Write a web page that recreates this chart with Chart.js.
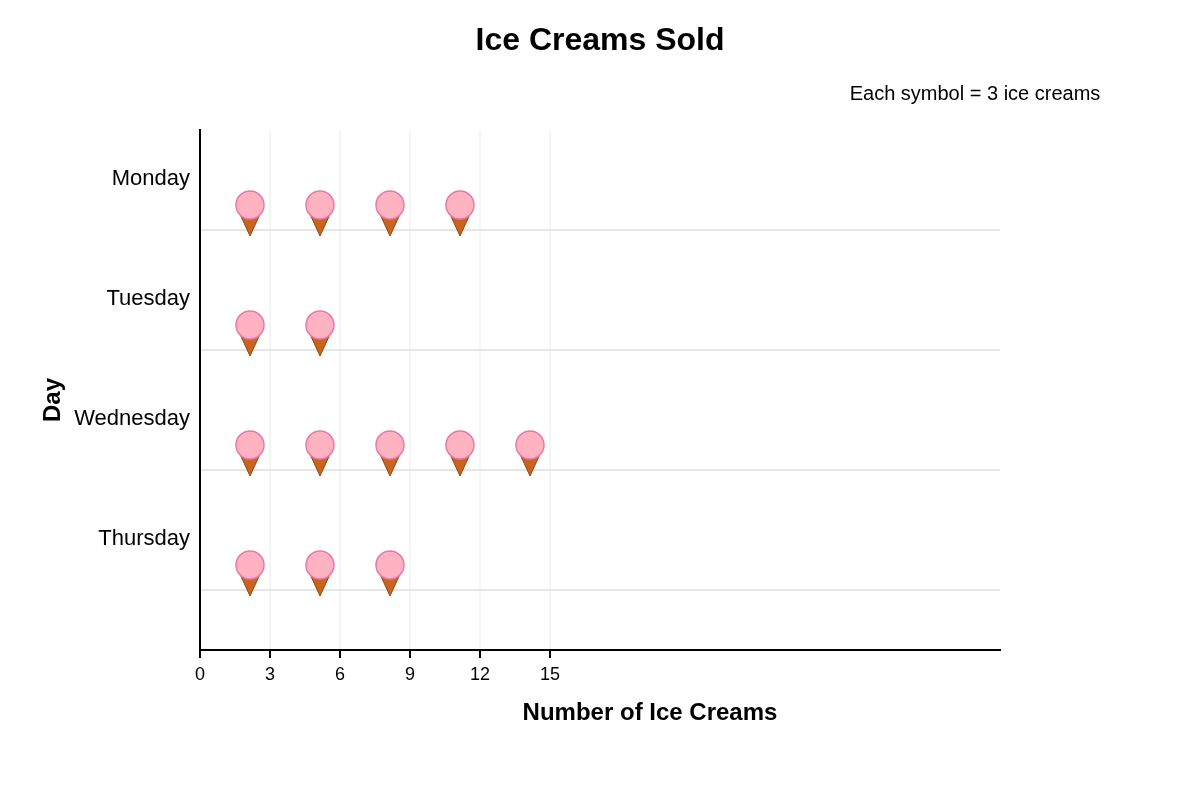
<!DOCTYPE html>
<html>
<head>
<meta charset="utf-8">
<style>
  html, body { margin: 0; padding: 0; background: #fff; }
  canvas { display: block; }
</style>
<script src="https://cdn.jsdelivr.net/npm/chart.js@4/dist/chart.umd.min.js"></script>
</head>
<body>
<canvas id="iceChart" width="1200" height="800"></canvas>
<script>
const days = ['Monday', 'Tuesday', 'Wednesday', 'Thursday'];
const iceCreams = [12, 6, 15, 9];
const xTicks = [0, 3, 6, 9, 12, 15];
const perSymbol = 3;

const fontName = '"Liberation Sans", Arial, sans-serif';

// one ice cream, with the row line running through the middle of the canvas
const makeIcon = () => {
  const icon = document.createElement('canvas');
  icon.width = 40;
  icon.height = 80;
  const c = icon.getContext('2d');
  c.beginPath();
  c.moveTo(9, 22);
  c.lineTo(20, 46);
  c.lineTo(31, 22);
  c.closePath();
  c.fillStyle = '#c9641f';
  c.strokeStyle = '#8b4513';
  c.lineWidth = 1;
  c.fill();
  c.stroke();
  c.beginPath();
  c.arc(20, 15, 14, 0, Math.PI * 2);
  c.fillStyle = '#ffb3c1';
  c.strokeStyle = '#ec77ad';
  c.lineWidth = 1.5;
  c.fill();
  c.stroke();
  return icon;
};

// symbols sit a bit short of the end of their 3-wide slot
const symbolPoints = [];
iceCreams.forEach((total, row) => {
  for (let i = 0; i < total / perSymbol; i++) {
    symbolPoints.push({ x: perSymbol * i + 15 / 7, y: row + 1 });
  }
});

const extraText = {
  id: 'extraText',
  afterDraw(chart) {
    const { ctx, chartArea } = chart;
    ctx.save();
    ctx.fillStyle = '#000';
    ctx.textBaseline = 'middle';
    ctx.textAlign = 'center';
    ctx.font = 'bold 24px ' + fontName;
    ctx.fillText('Number of Ice Creams', chartArea.left + 450, chartArea.bottom + 63);
    ctx.font = '20px ' + fontName;
    ctx.fillText('Each symbol = 3 ice creams', chartArea.right - 25, chartArea.top - 36);
    ctx.translate(53, chartArea.top + 270);
    ctx.rotate(-Math.PI / 2);
    ctx.font = 'bold 24px ' + fontName;
    ctx.fillText('Day', 0, 0);
    ctx.restore();
  }
};

const iceChart = new Chart(document.getElementById('iceChart').getContext('2d'), {
  type: 'scatter',
  data: {
    datasets: [{
      label: 'Ice Creams Sold',
      data: symbolPoints,
      pointStyle: makeIcon(),
      pointRadius: 20
    }]
  },
  options: {
    responsive: false,
    animation: false,
    layout: { padding: { right: 200 } },
    plugins: {
      legend: { display: false },
      tooltip: { enabled: false },
      title: {
        display: true,
        fullSize: false,
        text: 'Ice Creams Sold',
        color: '#000',
        font: { family: fontName, size: 32, weight: 'bold' },
        padding: { top: 22, bottom: 69.6 }
      }
    },
    scales: {
      x: {
        type: 'linear',
        min: 0,
        max: 240 / 7,
        afterBuildTicks: (axis) => { axis.ticks = xTicks.map((value) => ({ value })); },
        afterFit: (axis) => { axis.height = 150; },
        border: { color: '#000', width: 2 },
        grid: { color: '#f5f5f5', lineWidth: 2, tickColor: '#000', tickLength: 8, drawOnChartArea: true },
        ticks: { color: '#000', font: { family: fontName, size: 18 }, padding: 6, maxRotation: 0, autoSkip: false }
      },
      y: {
        type: 'linear',
        reverse: true,
        min: 1 / 6,
        max: 4.5,
        afterBuildTicks: (axis) => { axis.ticks = days.map((day, i) => ({ value: i + 1 })); },
        afterFit: (axis) => { axis.width = 200; },
        border: { color: '#000', width: 2 },
        grid: { color: '#e6e6e6', lineWidth: 2, drawTicks: false },
        ticks: {
          color: '#000',
          font: { family: fontName, size: 22 },
          padding: 10,
          labelOffset: -51,
          autoSkip: false,
          callback: (value) => days[value - 1]
        }
      }
    }
  },
  plugins: [extraText]
});
</script>
</body>
</html>
